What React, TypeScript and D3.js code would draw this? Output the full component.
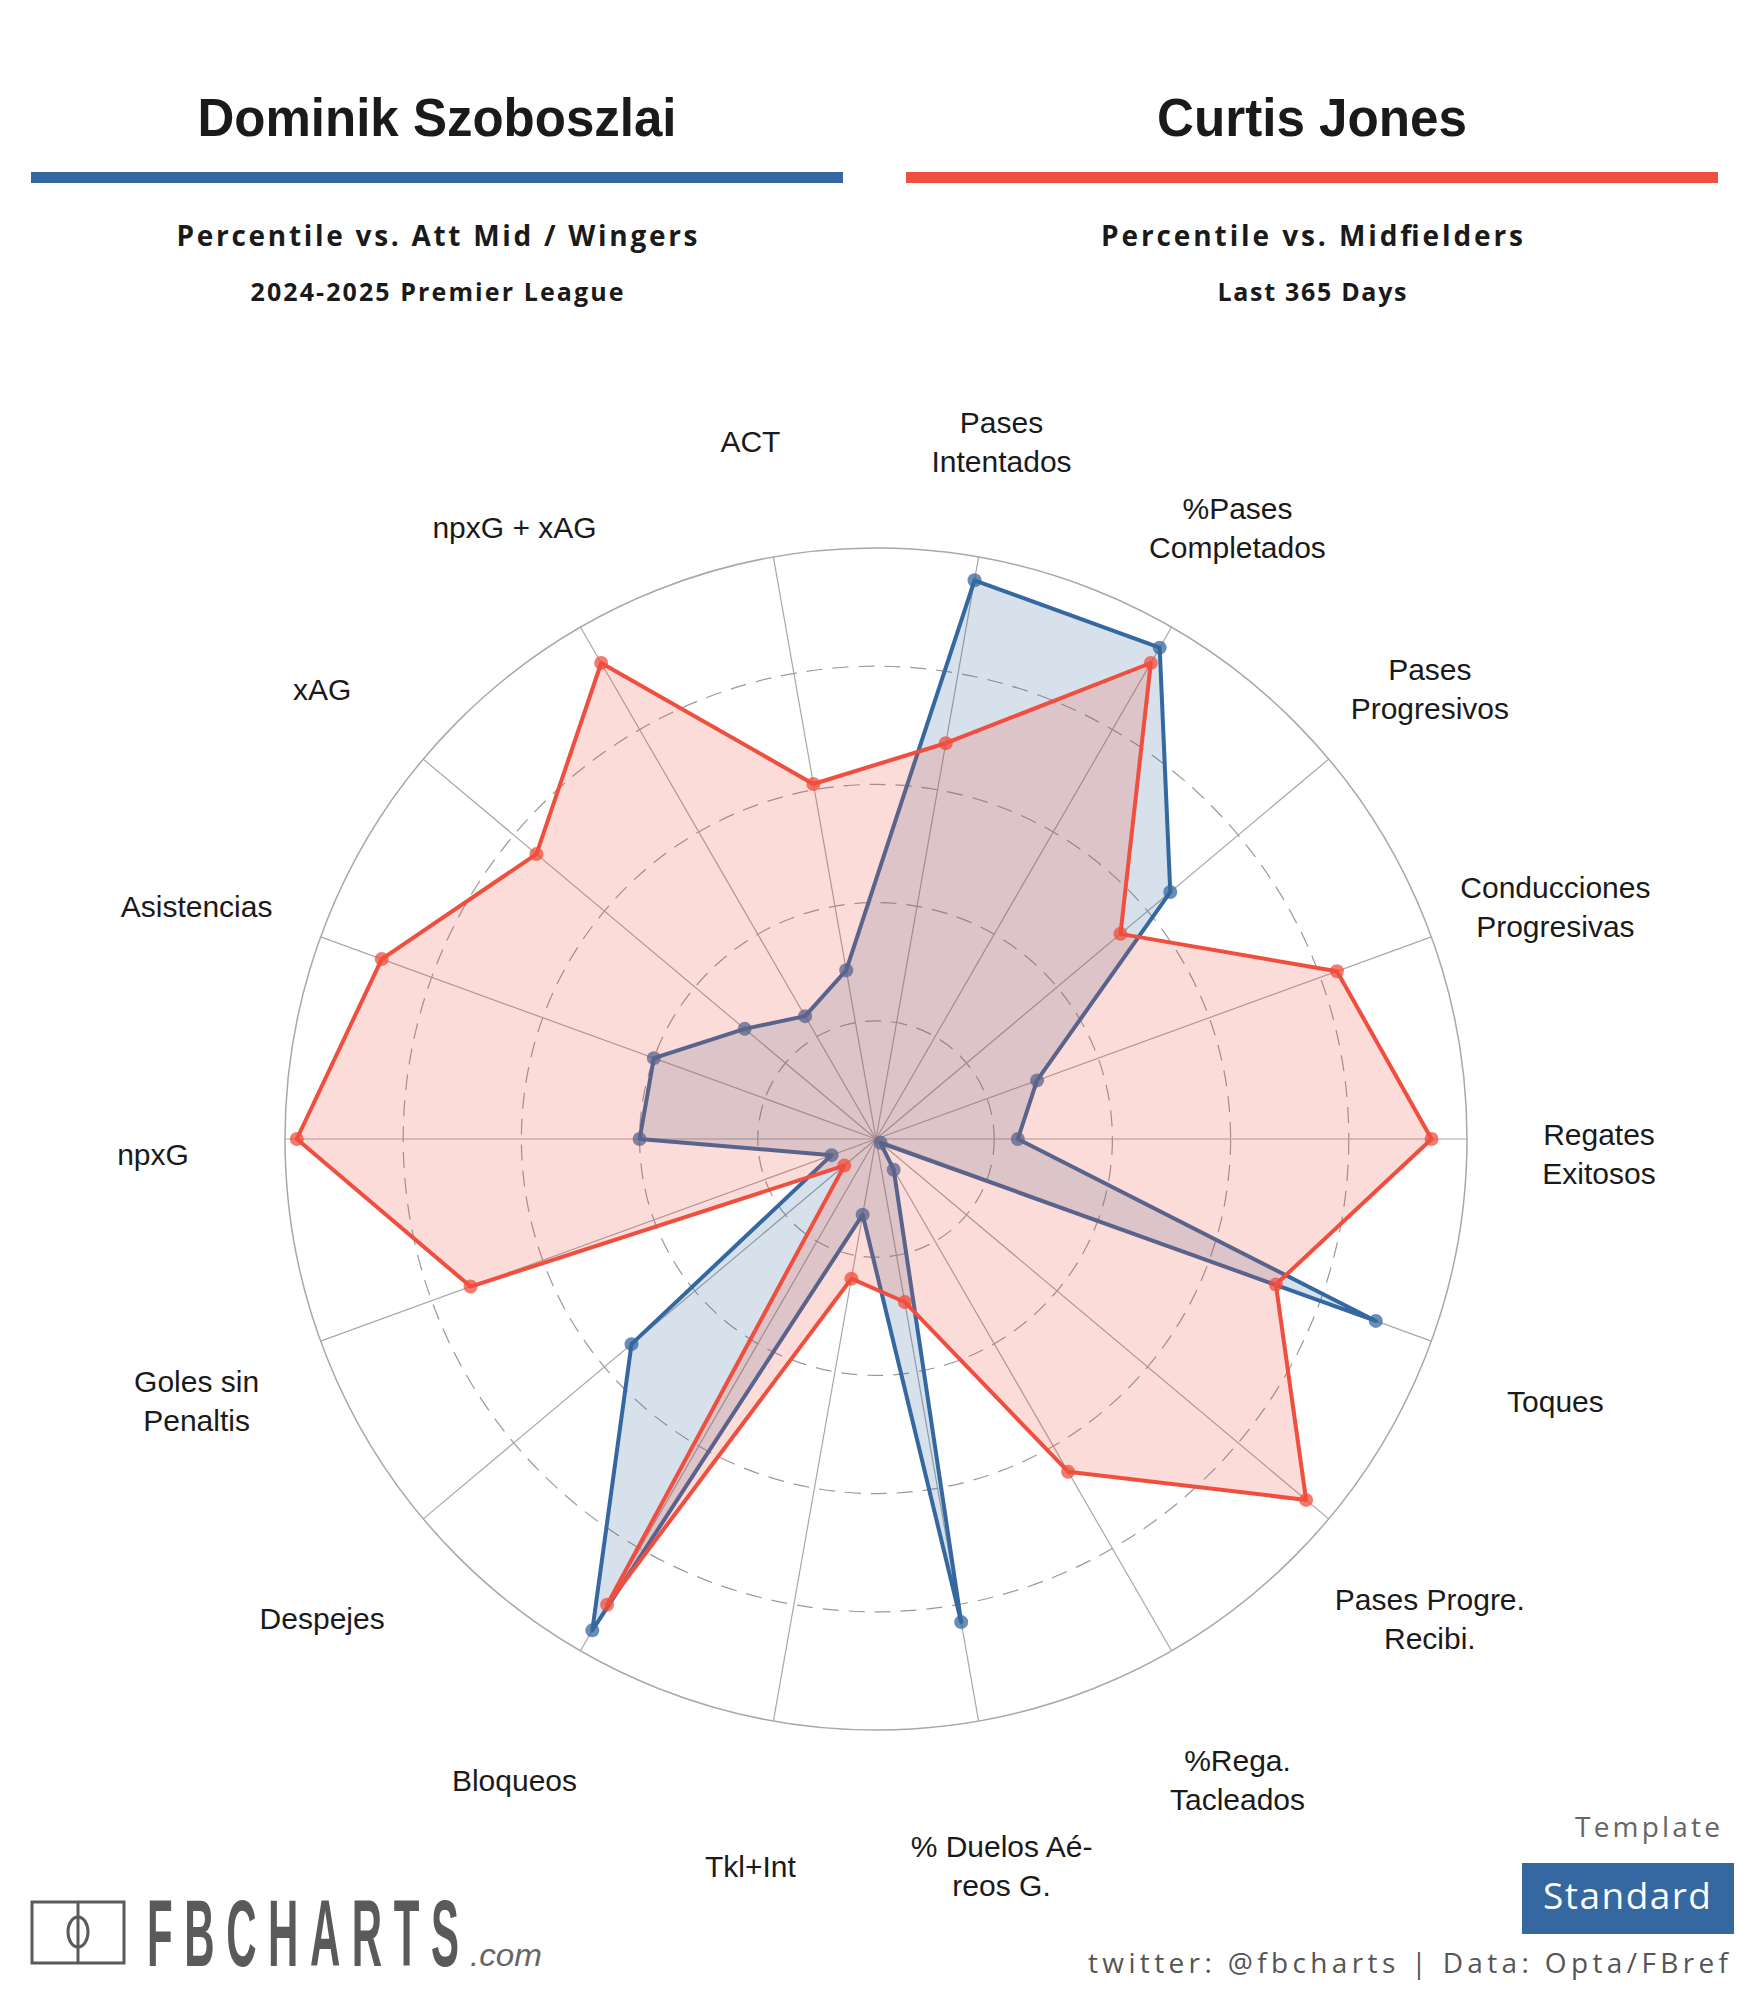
import React from "react";
import * as d3 from "d3";

const categories = [
  "Pases Intentados", "%Pases Completados", "Pases Progresivos", "Conducciones Progresivas",
  "Regates Exitosos", "Toques", "Pases Progre. Recibi.", "%Rega. Tacleados",
  "% Duelos Aéreos G.", "Tkl+Int", "Bloqueos", "Despejes", "Goles sin Penaltis",
  "npxG", "Asistencias", "xAG", "npxG + xAG", "ACT",
];
const labelLines = [
  ["Pases", "Intentados"], ["%Pases", "Completados"], ["Pases", "Progresivos"],
  ["Conducciones", "Progresivas"], ["Regates", "Exitosos"], ["Toques"],
  ["Pases Progre.", "Recibi."], ["%Rega.", "Tacleados"], ["% Duelos Aé-", "reos G."],
  ["Tkl+Int"], ["Bloqueos"], ["Despejes"], ["Goles sin", "Penaltis"], ["npxG"],
  ["Asistencias"], ["xAG"], ["npxG + xAG"], ["ACT"],
];
const szoboszlai = [96, 96, 65, 29, 24, 90, 1, 6, 83, 13, 96, 54, 8, 40, 40, 29, 24, 29];
const jones = [68, 93, 54, 83, 94, 72, 95, 65, 28, 24, 91, 7, 73, 98, 89, 75, 93, 61];
const ringTicks = [20, 40, 60, 80];

const player1 = { name: "Dominik Szoboszlai", sub1: "Percentile vs. Att Mid / Wingers", sub2: "2024-2025 Premier League" };
const player2 = { name: "Curtis Jones", sub1: "Percentile vs. Midfielders", sub2: "Last 365 Days" };

const BLUE = "#3568A0";
const RED = "#F04E3E";

export default function App() {
  const W = 1750, H = 2000;
  const cx = 876, cy = 1139, R = 591;
  const r = d3.scaleLinear().domain([0, 100]).range([0, R]);
  const n = categories.length;
  const ang = d3.scaleLinear().domain([0, n]).range([Math.PI / 18, Math.PI / 18 + 2 * Math.PI]);
  const line = d3.lineRadial<number>()
    .angle((_, i) => ang(i))
    .radius((d) => r(d))
    .curve(d3.curveLinearClosed);
  const pt = (v: number, i: number) => {
    const a = ang(i);
    return [cx + r(v) * Math.sin(a), cy - r(v) * Math.cos(a)];
  };
  const labelR = 723;
  const sans = "'Liberation Sans', Arial, Helvetica, sans-serif";
  const open = "'Open Sans', 'Noto Sans', sans-serif";

  const series = [
    { data: szoboszlai, color: BLUE },
    { data: jones, color: RED },
  ];

  return (
    <svg width={W} height={H} style={{ position: "absolute", left: 0, top: 0, background: "#fff" }}>
      <rect x={0} y={0} width={W} height={H} fill="#fff" />
      {/* Headers */}
      <text x={437} y={136} textAnchor="middle" fontFamily={sans} fontWeight={700} fontSize={53} fill="#1a1a1a"
        textLength={479} lengthAdjust="spacingAndGlyphs">{player1.name}</text>
      <text x={1312} y={136} textAnchor="middle" fontFamily={sans} fontWeight={700} fontSize={53} fill="#1a1a1a"
        textLength={310} lengthAdjust="spacingAndGlyphs">{player2.name}</text>
      <rect x={31} y={172} width={812} height={11} fill={BLUE} />
      <rect x={906} y={172} width={812} height={11} fill={RED} />
      <text x={437} y={246} textAnchor="middle" fontFamily={open} fontWeight={700} fontSize={28} fill="#1a1a1a"
        textLength={521} lengthAdjust="spacing">{player1.sub1}</text>
      <text x={437} y={301} textAnchor="middle" fontFamily={open} fontWeight={700} fontSize={25} fill="#1a1a1a"
        textLength={373} lengthAdjust="spacing">{player1.sub2}</text>
      <text x={1312} y={246} textAnchor="middle" fontFamily={open} fontWeight={700} fontSize={28} fill="#1a1a1a"
        textLength={422} lengthAdjust="spacing">{player2.sub1}</text>
      <text x={1312} y={301} textAnchor="middle" fontFamily={open} fontWeight={700} fontSize={25} fill="#1a1a1a"
        textLength={189} lengthAdjust="spacing">{player2.sub2}</text>

      {/* Grid */}
      <g transform={`translate(${cx},${cy})`}>
        {ringTicks.map((t) => (
          <circle key={t} r={r(t)} fill="none" stroke="#9a9a9a" strokeWidth={1.2} strokeDasharray="16 10" />
        ))}
        <circle r={r(100)} fill="none" stroke="#a8a8a8" strokeWidth={1.5} />
        {categories.map((c, i) => {
          const a = ang(i);
          return (
            <line key={c} x1={0} y1={0} x2={R * Math.sin(a)} y2={-R * Math.cos(a)} stroke="#a8a8a8" strokeWidth={1.2} />
          );
        })}
      </g>

      {/* Series */}
      {series.map((s, si) => (
        <g key={si}>
          <path d={line(s.data) || ""} transform={`translate(${cx},${cy})`} fill={s.color} fillOpacity={0.2}
            stroke={s.color} strokeWidth={4} strokeLinejoin="round" />
          {s.data.map((v, i) => {
            const [x, y] = pt(v, i);
            return <circle key={i} cx={x} cy={y} r={7} fill={s.color} fillOpacity={0.75} />;
          })}
        </g>
      ))}

      {/* Axis labels */}
      {labelLines.map((lines, i) => {
        const a = ang(i);
        const x = cx + labelR * Math.sin(a);
        const y = cy - labelR * Math.cos(a) + 15;
        const lh = 39;
        const y0 = y - ((lines.length - 1) * lh) / 2;
        return (
          <text key={i} x={x} textAnchor="middle" fontFamily={sans} fontSize={30} fill="#1a1a1a">
            {lines.map((l, j) => (
              <tspan key={j} x={x} y={y0 + j * lh} dominantBaseline="central">{l}</tspan>
            ))}
          </text>
        );
      })}

      {/* Footer logo */}
      <g>
        <rect x={32} y={1902} width={92} height={61} fill="none" stroke="#5a5a5a" strokeWidth={3} />
        <line x1={78} y1={1902} x2={78} y2={1963} stroke="#5a5a5a" strokeWidth={3} />
        <ellipse cx={78} cy={1932} rx={10} ry={15} fill="none" stroke="#5a5a5a" strokeWidth={3} />
        <text transform="translate(147,1966) scale(1,2.25)" x={0} y={0} fontFamily={sans} fontWeight={700}
          fontSize={42} fill="#5a5a5a" textLength={312} lengthAdjust="spacing">FBCHARTS</text>
        <text x={470} y={1966} fontFamily={sans} fontStyle="italic" fontSize={32} fill="#666"
          textLength={72} lengthAdjust="spacingAndGlyphs">.com</text>
      </g>

      {/* Template box */}
      <text x={1720} y={1837} textAnchor="end" fontFamily={open} fontSize={28} fill="#666"
        textLength={145} lengthAdjust="spacing">Template</text>
      <rect x={1522} y={1863} width={212} height={71} fill={BLUE} />
      <text x={1627} y={1909} textAnchor="middle" fontFamily={open} fontSize={37} fill="#fff"
        textLength={168} lengthAdjust="spacing">Standard</text>
      <text x={1728} y={1973} textAnchor="end" fontFamily={open} fontSize={28} fill="#555"
        textLength={640} lengthAdjust="spacing">twitter: @fbcharts | Data: Opta/FBref</text>
    </svg>
  );
}
